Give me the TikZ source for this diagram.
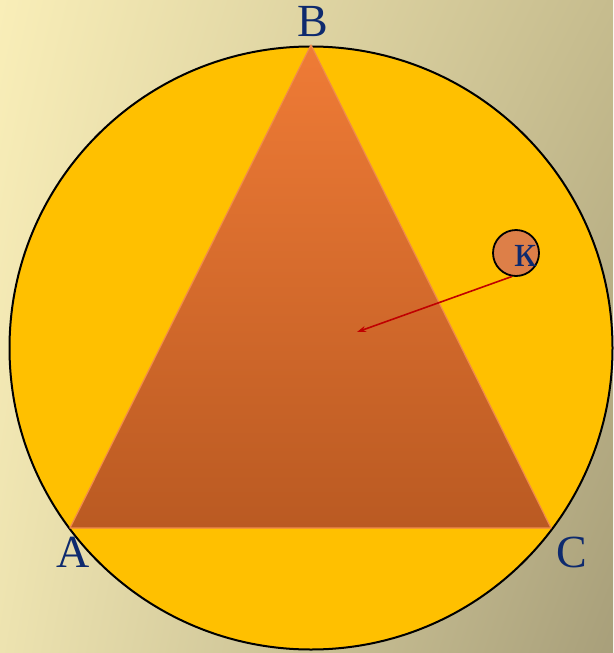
\documentclass[tikz,border=0pt]{standalone}
\usepackage{fontspec}
\setmainfont{Liberation Serif}
\usetikzlibrary{arrows.meta, shadings}

\definecolor{bgtl}{HTML}{F9EEB8}
\definecolor{bgtr}{HTML}{C6BC8E}
\definecolor{bgbl}{HTML}{EDE3B0}
\definecolor{bgbr}{HTML}{A89F7A}
\definecolor{gold}{HTML}{FFC000}
\definecolor{tritop}{HTML}{EF7B36}
\definecolor{tribot}{HTML}{BA5A22}
\definecolor{triedge}{HTML}{F08A4C}
\definecolor{ballfill}{HTML}{DD7F48}
\definecolor{navy}{HTML}{0E2A6E}
\definecolor{arrowred}{HTML}{C00000}

\tikzset{
    vlabel/.style={text=navy, inner sep=0pt, font=\fontsize{46}{46}\selectfont},
    ball/.style={circle, draw, line width=1.8pt, fill=ballfill, minimum size=46pt, inner sep=0pt}
}

\begin{document}
\begin{tikzpicture}[x=1pt, y=-1pt, >={Stealth[length=9pt, width=6pt]}]
    % background
    \shade[upper left=bgtl, upper right=bgtr, lower left=bgbl, lower right=bgbr] (0,0) rectangle (613,653);
    \useasboundingbox (0,0) rectangle (613,653);

    % circumscribed circle
    \draw[fill=gold, line width=2pt] (311,348) circle (301.5);

    % triangle ABC
    \coordinate (A) at (70,528);
    \coordinate (B) at (311,45);
    \coordinate (C) at (551,528);
    \shade[top color=tritop, bottom color=tribot] (A) -- (B) -- (C) -- cycle;
    \draw[triedge, line width=1.2pt, line join=round] (A) -- (B) -- (C) -- cycle;

    \node[vlabel] (labA) at (73,552) {A};
    \node[vlabel] (labB) at (313,22) {B};
    \node[vlabel] (labC) at (572,552) {C};

    % point K and the arrow
    \node[ball] (K) at (516,253) {};
    \node[vlabel] (labK) at (526,256) {к};
    \coordinate (O) at (357,332);
    \draw[->, arrowred, line width=1.6pt] (K.-100) -- (O);
\end{tikzpicture}
\end{document}
